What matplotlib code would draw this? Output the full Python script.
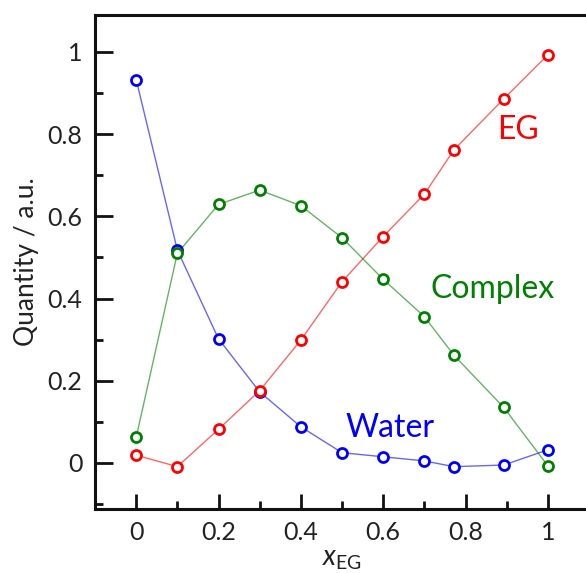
import matplotlib
matplotlib.use("Agg")
import matplotlib.pyplot as plt
from matplotlib.ticker import MultipleLocator

plt.rcParams['font.family'] = ['Lato', 'DejaVu Sans']
plt.rcParams['mathtext.fontset'] = 'custom'
plt.rcParams['mathtext.it'] = 'Lato:italic'
plt.rcParams['mathtext.rm'] = 'Lato'

# mole fraction of EG
x_eg = [0, 0.1, 0.2, 0.3, 0.4, 0.5, 0.6, 0.7, 0.772, 0.893, 1.0]

water = [0.933, 0.518, 0.302, 0.173, 0.088, 0.025, 0.015, 0.005, -0.009, -0.005, 0.032]
eg = [0.019, -0.009, 0.082, 0.176, 0.299, 0.441, 0.551, 0.654, 0.762, 0.886, 0.993]
complex_ = [0.062, 0.510, 0.629, 0.664, 0.626, 0.548, 0.447, 0.356, 0.262, 0.135, -0.007]

series = [
    ('Water', water, '#0000ff', (0.617, 0.085)),
    ('EG', eg, '#ff0000', (0.927, 0.81)),
    ('Complex', complex_, '#008000', (0.866, 0.423)),
]

fig = plt.figure(figsize=(5.86, 5.73), dpi=100)
# right spine sits just outside the picture
ax = fig.add_axes([95/586, 1 - 509/573, (589 - 95)/586, (509 - 15)/573])

for name, y, col, pos in series:
    ax.plot(x_eg, y, '-', color=col, lw=1.0, alpha=0.6, zorder=2)
    ax.plot(x_eg, y, 'o', ms=7.2, mfc='white', mec=col, mew=2.0, zorder=3)
    ax.text(pos[0], pos[1], name, color=col, fontsize=23, ha='center', va='center')

ax.set_xlim(-0.1, 1.1)
ax.set_ylim(-0.112, 1.09)

ax.xaxis.set_minor_locator(MultipleLocator(0.1))
ax.yaxis.set_minor_locator(MultipleLocator(0.1))
ax.set_xticks([0, 0.2, 0.4, 0.6, 0.8, 1.0])
ax.set_xticklabels(['0', '0.2', '0.4', '0.6', '0.8', '1'])
ax.set_yticks([0, 0.2, 0.4, 0.6, 0.8, 1.0])
ax.set_yticklabels(['0', '0.2', '0.4', '0.6', '0.8', '1'])

ax.tick_params(which='both', direction='in', width=2, color='#111111',
               labelsize=18, labelcolor='#222222', pad=9)
ax.tick_params(which='major', length=11)
ax.tick_params(which='minor', length=6)
ax.tick_params(axis='y', which='major', length=13)

for s in ['left', 'bottom', 'top']:
    ax.spines[s].set_linewidth(2.2)
    ax.spines[s].set_color('#111111')
ax.spines['right'].set_visible(False)

ax.set_ylabel('Quantity / a.u.', fontsize=19, color='#222222', labelpad=6)
ax.set_xlabel(r'$x_{\mathrm{EG}}$', fontsize=20, color='#222222', labelpad=1)

fig.savefig('out.png', dpi=100)
